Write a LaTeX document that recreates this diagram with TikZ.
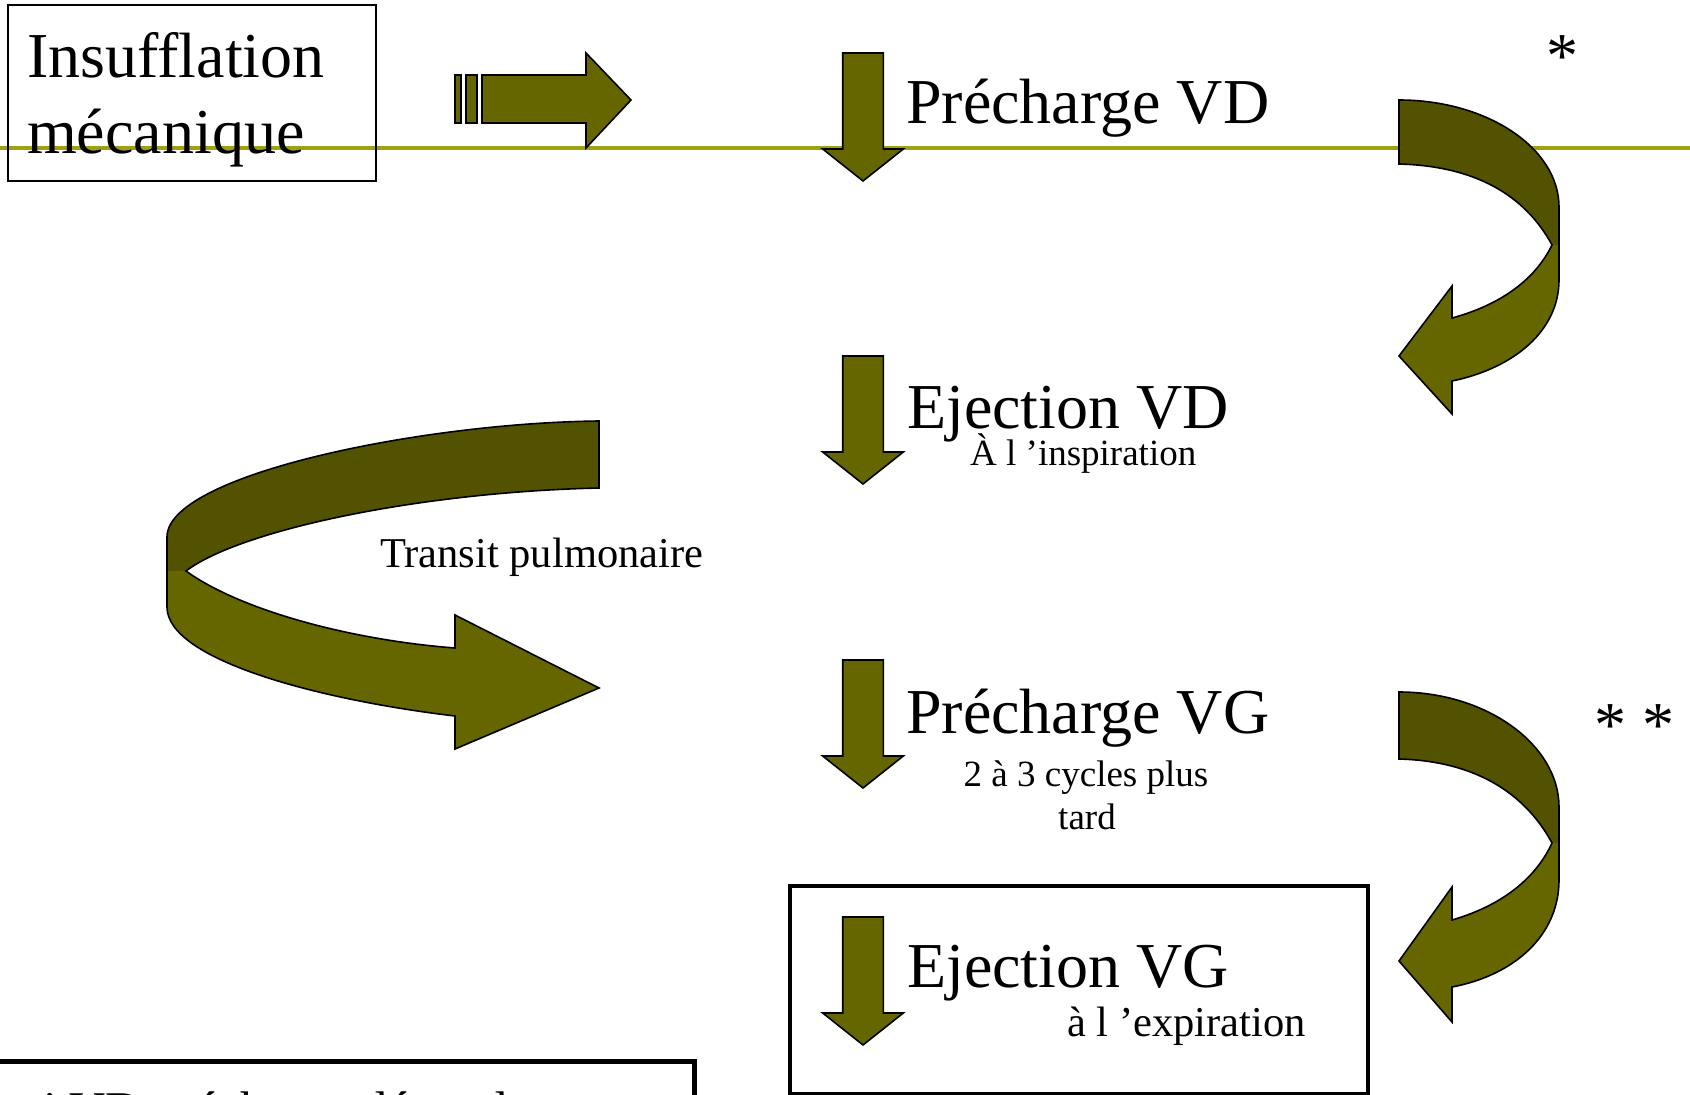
\documentclass[tikz,border=0pt]{standalone}
\usepackage{fontspec}
\setmainfont{Liberation Serif}
\definecolor{olivefill}{RGB}{102,102,0}
\definecolor{olivedark}{RGB}{82,82,0}
\definecolor{guideline}{RGB}{160,160,16}
\tikzset{
  arrowfill/.style={fill=olivefill, draw=black, line width=1.6pt, line join=miter},
  outl/.style={draw=black, line width=1.6pt, line join=miter},
  bigtxt/.style={font=\fontsize{64}{76}\selectfont, inner sep=0pt, anchor=base west},
  smalltxt/.style={font=\fontsize{37}{44}\selectfont, inner sep=0pt, anchor=base west},
  midtxt/.style={font=\fontsize{42.5}{50}\selectfont, inner sep=0pt, anchor=base west},
  downarrow/.pic={\path[arrowfill] (-20.3,0) -- (20.3,0) -- (20.3,96) -- (40.3,96) -- (0,128) -- (-40.3,96) -- (-20.3,96) -- cycle;}
}
\begin{document}
\begin{tikzpicture}[x=1pt,y=-1pt]
\useasboundingbox (0,0) rectangle (1690,1095);
\fill[white] (0,0) rectangle (1690,1095);
\clip (0,0) rectangle (1690,1095);

% guide line
\draw[guideline, line width=4pt] (0,148) -- (1690,148);

% top-left box
\node[draw=black, line width=1.5pt, minimum width=368pt, minimum height=176pt, anchor=north west, inner sep=0pt] (insbox) at (7,4) {};
\node[bigtxt] (ins1) at (27,77) {Insufflation};
\node[bigtxt] (ins2) at (27,153) {mécanique};

% striped arrow
\path[arrowfill] (455,75) rectangle (461,123);
\path[arrowfill] (466,75) rectangle (477,123);
\path[arrowfill] (482,75) -- (586,75) -- (586,53) -- (631,100) -- (586,148) -- (586,123) -- (482,123) -- cycle;

% down arrows
\pic (da1) at (863,53) {downarrow};
\pic (da2) at (863,356) {downarrow};
\pic (da3) at (863,660) {downarrow};

% texts
\node[bigtxt] (pvd) at (906,123) {Précharge VD};
\node[bigtxt] (evd) at (907,428) {Ejection VD};
\node[smalltxt] (insp) at (970,465) {À l ’inspiration};
\node[midtxt] (transit) at (380,567) {Transit pulmonaire};
\node[bigtxt] (pvg) at (906,733) {Précharge VG};
\node[smalltxt, anchor=base] (cyc1) at (1086,786) {2 à 3 cycles plus};
\node[smalltxt, anchor=base] (cyc2) at (1087,829) {tard};

% Ejection VG box
\node[draw=black, line width=3.5pt, minimum width=578pt, minimum height=208pt, anchor=north west, inner sep=0pt] (vgbox) at (788,884) {};
\pic (da4) at (863,917) {downarrow};
\node[bigtxt] (evg) at (907,987) {Ejection VG};
\node[midtxt] (expi) at (1067,1036) {à l ’expiration};

% asterisks
\node[bigtxt, anchor=base] (ast1) at (1562,77) {*};
\node[bigtxt, anchor=base] (ast2) at (1634,746) {* *};

% bottom-left box (cut off)
\node[draw=black, line width=5pt, minimum width=720pt, minimum height=150pt, anchor=north east, inner sep=0pt] (blbox) at (697,1059) {};
\node[font=\fontsize{50}{60}\selectfont, inner sep=0pt, anchor=base west] (bltxt) at (-88,1126) {Effet si VD précharge dépendant};

% right curved arrow 1
\fill[olivedark] (1399,100) .. controls (1487,100) and (1559,148) .. (1559,207) -- (1559,245) -- (1552,245) .. controls (1525,195) and (1475,166) .. (1399,164) -- cycle;
\fill[olivefill] (1552,245) -- (1559,245) -- (1559,280) .. controls (1559,330) and (1515,368) .. (1452,381) -- (1452,414) -- (1399,356) -- (1452,286) -- (1452,318) .. controls (1500,305) and (1535,280) .. (1552,245) -- cycle;
\draw[outl] (1399,100) .. controls (1487,100) and (1559,148) .. (1559,207) -- (1559,280) .. controls (1559,330) and (1515,368) .. (1452,381) -- (1452,414) -- (1399,356) -- (1452,286) -- (1452,318) .. controls (1500,305) and (1535,280) .. (1552,245) .. controls (1525,195) and (1475,166) .. (1399,164) -- cycle;

% right curved arrow 2
\fill[olivedark] (1399,692) .. controls (1487,692) and (1559,745) .. (1559,807) -- (1559,843) -- (1552,843) .. controls (1525,793) and (1475,761) .. (1399,759) -- cycle;
\fill[olivefill] (1552,843) -- (1559,843) -- (1559,880) .. controls (1559,935) and (1515,975) .. (1452,987) -- (1452,1022) -- (1399,961) -- (1452,887) -- (1452,920) .. controls (1500,906) and (1535,880) .. (1552,843) -- cycle;
\draw[outl] (1399,692) .. controls (1487,692) and (1559,745) .. (1559,807) -- (1559,880) .. controls (1559,935) and (1515,975) .. (1452,987) -- (1452,1022) -- (1399,961) -- (1452,887) -- (1452,920) .. controls (1500,906) and (1535,880) .. (1552,843) .. controls (1525,793) and (1475,761) .. (1399,759) -- cycle;

% transit curved arrow
\fill[olivedark] (599,421) .. controls (420,423) and (167,475) .. (167,537) -- (167,571) -- (186,571) .. controls (240,530) and (420,492) .. (599,488) -- cycle;
\fill[olivefill] (186,571) -- (167,571) -- (167,607) .. controls (167,660) and (320,700) .. (455,716) -- (455,749) -- (599,688) -- (455,615) -- (455,648) .. controls (350,640) and (240,610) .. (186,571) -- cycle;
\draw[outl] (599,421) .. controls (420,423) and (167,475) .. (167,537) -- (167,607) .. controls (167,660) and (320,700) .. (455,716) -- (455,749) -- (599,688) -- (455,615) -- (455,648) .. controls (350,640) and (240,610) .. (186,571) .. controls (240,530) and (420,492) .. (599,488) -- cycle;
\end{tikzpicture}
\end{document}
